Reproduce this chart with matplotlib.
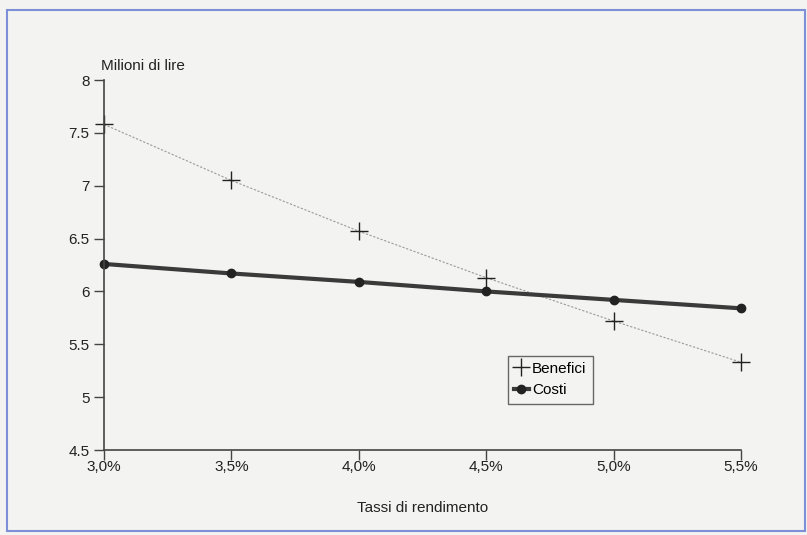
import matplotlib.pyplot as plt
from matplotlib.patches import Rectangle

# data
tassi = [3.0, 3.5, 4.0, 4.5, 5.0, 5.5]
tick_labels = ['3,0%', '3,5%', '4,0%', '4,5%', '5,0%', '5,5%']
benefici = [7.58, 7.05, 6.57, 6.13, 5.72, 5.33]
costi = [6.26, 6.17, 6.09, 6.00, 5.92, 5.84]

plt.rcParams['font.family'] = ['Liberation Sans', 'DejaVu Sans']

fig = plt.figure(figsize=(8.07, 5.35), dpi=100)
fig.patch.set_facecolor('#f3f3f1')
fig.patches.append(Rectangle((7 / 807, 4 / 535), 798 / 807, 521 / 535, transform=fig.transFigure,
                             fill=False, edgecolor='#7d8fd6', linewidth=1.5))

ax = fig.add_axes([104 / 807, 85 / 535, 637 / 807, 370 / 535])
ax.set_facecolor('none')

ax.plot(tassi, benefici, color='#9a9a9a', linewidth=0.8, linestyle=(0, (2, 1.5)),
        marker='+', markersize=13, markeredgewidth=1.0, markeredgecolor='#222222', label='Benefici', clip_on=False)
ax.plot(tassi, costi, color='#3a3a3a', linewidth=3, marker='o', markersize=6,
        markerfacecolor='#222222', markeredgecolor='#222222', label='Costi', clip_on=False)

ax.set_xlim(3.0, 5.5)
ax.set_ylim(4.5, 8)
ax.set_xticks(tassi)
ax.set_xticklabels(tick_labels)
ax.set_yticks([4.5, 5, 5.5, 6, 6.5, 7, 7.5, 8])
ax.set_yticklabels(['4.5', '5', '5.5', '6', '6.5', '7', '7.5', '8'])

for s in ['top', 'right']:
    ax.spines[s].set_visible(False)
for s in ['left', 'bottom']:
    ax.spines[s].set_color('#444444')
    ax.spines[s].set_linewidth(1.2)
ax.tick_params(axis='both', direction='out', length=7, width=1, color='#444444',
               labelsize=11, labelcolor='#222222')
ax.tick_params(axis='x', pad=0)

ax.text(-0.005, 1.02, 'Milioni di lire', fontsize=11, color='#222222', ha='left', va='bottom',
        transform=ax.transAxes)
ax.set_xlabel('Tassi di rendimento', fontsize=11, color='#222222', labelpad=20)

leg = ax.legend(loc='upper left', bbox_to_anchor=(396 / 637, (450 - 348) / 370), fontsize=11,
                frameon=True, fancybox=False, edgecolor='#444444', handlelength=1.0,
                handletextpad=0.2, borderpad=0.4, labelspacing=0.5)
leg.get_frame().set_facecolor('none')
leg.get_frame().set_linewidth(1)

fig.savefig('out.png', dpi=100, facecolor=fig.get_facecolor())
